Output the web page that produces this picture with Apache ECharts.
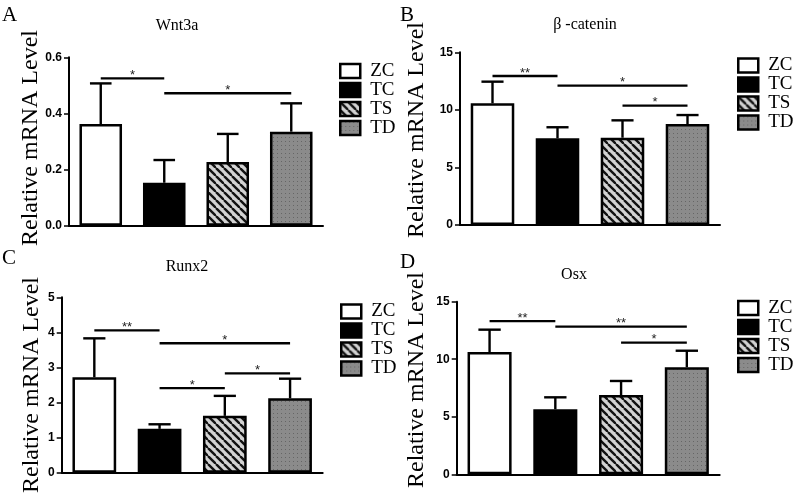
<!DOCTYPE html>
<html>
<head>
<meta charset="utf-8">
<script src="https://cdn.jsdelivr.net/npm/echarts@6/dist/echarts.min.js"></script>
<style>
html,body{margin:0;padding:0;background:#fff;}
#chart{width:794px;height:494px;}
</style>
</head>
<body>
<div id="chart"></div>
<script>
// ---------- data ----------
const groups = ['ZC', 'TC', 'TS', 'TD'];
const panelTitles = ['Wnt3a', 'β -catenin', 'Runx2', 'Osx'];
const panelLetters = ['A', 'B', 'C', 'D'];
const yAxisTitle = 'Relative mRNA Level';

const wnt3aMean = [0.362, 0.153, 0.227, 0.335];
const wnt3aSD   = [0.145, 0.081, 0.100, 0.101];
const betaMean  = [10.57, 7.53, 7.58, 8.77];
const betaSD    = [1.88, 0.96, 1.51, 0.78];
const runx2Mean = [2.72, 1.25, 1.62, 2.12];
const runx2SD   = [1.11, 0.13, 0.57, 0.56];
const osxMean   = [10.63, 5.65, 6.89, 9.30];
const osxSD     = [1.94, 1.04, 1.22, 1.44];

const wnt3aTicks = [0, 0.2, 0.4, 0.6];
const betaTicks  = [0, 5, 10, 15];
const runx2Ticks = [0, 1, 2, 3, 4, 5];
const osxTicks   = [0, 5, 10, 15];

// significance brackets: [fromGroup, toGroup, level, label]
const wnt3aSig = [[0, 1, 0.525, '*'], [1, 3, 0.472, '*']];
const betaSig  = [[0, 1, 12.94, '**'], [1, 3, 12.1, '*'], [2, 3, 10.36, '*']];
const runx2Sig = [[0, 1, 4.06, '**'], [1, 3, 3.69, '*'], [1, 2, 2.41, '*'], [2, 3, 2.83, '*']];
const osxSig   = [[0, 1, 13.32, '**'], [1, 3, 12.83, '**'], [2, 3, 11.44, '*']];

const means = [wnt3aMean, betaMean, runx2Mean, osxMean];
const sds = [wnt3aSD, betaSD, runx2SD, osxSD];
const ticks = [wnt3aTicks, betaTicks, runx2Ticks, osxTicks];
const sigs = [wnt3aSig, betaSig, runx2Sig, osxSig];

// ---------- layout ----------
const grids = [
  {left: 69, top: 57.3, width: 254, height: 168.4},
  {left: 460, top: 52.3, width: 260, height: 172.7},
  {left: 61.7, top: 297.3, width: 261, height: 175.4},
  {left: 456.7, top: 301.7, width: 263, height: 172.6}
];
const titlePos = [[177, 26], [585, 25], [187, 267], [574, 275]];
const letterPos = [[2, 15], [400, 15], [2, 258], [400, 262]];
const yTitlePos = [[31, 138], [417, 130], [31.5, 385], [417, 380]];
const legendPos = [[339, 61.5], [737, 56], [340, 302], [737, 298.5]];

// ---------- patterns ----------
function hatchPattern() {
  const s = 8, c = document.createElement('canvas');
  c.width = s; c.height = s;
  const g = c.getContext('2d');
  g.fillStyle = '#d2d2d2'; g.fillRect(0, 0, s, s);
  g.strokeStyle = '#111'; g.lineWidth = 2.4;
  for (let k = -1; k <= 1; k++) {
    g.beginPath(); g.moveTo(k * s, 0); g.lineTo(k * s + s, s); g.stroke();
  }
  return c;
}
function dotPattern() {
  const s = 4, c = document.createElement('canvas');
  c.width = s; c.height = s;
  const g = c.getContext('2d');
  g.fillStyle = '#8b8b8b'; g.fillRect(0, 0, s, s);
  g.fillStyle = '#666666'; g.fillRect(1, 1, 1, 1);
  return c;
}
const fills = [
  '#ffffff',
  '#000000',
  {image: hatchPattern(), repeat: 'repeat'},
  {image: dotPattern(), repeat: 'repeat'}
];

// ---------- option ----------
const serif = '"Liberation Serif", "Times New Roman", serif';
const sans = '"Liberation Sans", Arial, sans-serif';
const option = {
  animation: false,
  backgroundColor: '#fff',
  grid: grids.map(g => Object.assign({containLabel: false}, g)),
  xAxis: grids.map((g, p) => ({
    type: 'category', gridIndex: p, data: groups,
    boundaryGap: true,
    axisLine: {lineStyle: {color: '#000', width: 2}},
    axisTick: {alignWithLabel: true, length: 6, lineStyle: {color: '#000', width: 1.5}},
    axisLabel: {show: false},
    splitLine: {show: false}
  })),
  yAxis: grids.map((g, p) => {
    const t = ticks[p];
    return {
      type: 'value', gridIndex: p,
      min: t[0], max: t[t.length - 1], interval: t[1] - t[0],
      axisLine: {show: true, lineStyle: {color: '#000', width: 2}},
      axisTick: {show: true, length: 5, lineStyle: {color: '#000', width: 1.5}},
      axisLabel: {
        margin: 7, color: '#000', fontFamily: sans, fontWeight: 'bold', fontSize: 12,
        formatter: v => p === 0 ? v.toFixed(1) : String(v)
      },
      splitLine: {show: false}
    };
  }),
  legend: grids.map((g, p) => ({
    data: groups,
    orient: 'vertical',
    left: legendPos[p][0], top: legendPos[p][1],
    padding: 0,
    itemWidth: 20, itemHeight: 14, itemGap: 0,
    icon: 'rect',
    selectedMode: false,
    itemStyle: {borderColor: '#000', borderWidth: 2.5},
    textStyle: {fontFamily: serif, fontSize: 19, color: '#000', padding: [0, 0, 0, 5]}
  })),
  series: [],
  graphic: []
};

for (let p = 0; p < 4; p++) {
  groups.forEach((name, i) => {
    option.series.push({
      type: 'bar', name: name,
      xAxisIndex: p, yAxisIndex: p,
      barWidth: '67%', barGap: '-100%',
      itemStyle: {color: fills[i], borderColor: '#000', borderWidth: 2.5},
      data: means[p].map((v, j) => j === i ? v : '-'),
      z: 2
    });
  });
  // error bars (upper only)
  option.series.push({
    type: 'custom', name: 'err' + p,
    xAxisIndex: p, yAxisIndex: p,
    encode: {x: 0, y: [1, 2]},
    data: means[p].map((m, i) => [i, m, m + sds[p][i]]),
    renderItem: (params, api) => {
      const b = api.coord([api.value(0), api.value(1)]);
      const t = api.coord([api.value(0), api.value(2)]);
      const hw = api.size([1, 0])[0] * 0.17;
      const st = {stroke: '#000', lineWidth: 2.4};
      return {type: 'group', children: [
        {type: 'line', shape: {x1: b[0], y1: b[1], x2: t[0], y2: t[1]}, style: st},
        {type: 'line', shape: {x1: t[0] - hw, y1: t[1], x2: t[0] + hw, y2: t[1]}, style: st}
      ]};
    },
    z: 3
  });
  // significance brackets
  const sg = sigs[p];
  option.series.push({
    type: 'custom', name: 'sig' + p,
    xAxisIndex: p, yAxisIndex: p,
    encode: {x: [0, 1], y: 2},
    data: sg.map(s => [s[0], s[1], s[2]]),
    renderItem: (params, api) => {
      const a = api.coord([api.value(0), api.value(2)]);
      const b = api.coord([api.value(1), api.value(2)]);
      return {type: 'group', children: [
        {type: 'line', shape: {x1: a[0], y1: a[1], x2: b[0], y2: b[1]},
         style: {stroke: '#000', lineWidth: 2.3}},
        {type: 'text', x: (a[0] + b[0]) / 2, y: a[1] - 3,
         style: {text: sg[params.dataIndex][3], fill: '#222', font: '13px ' + sans,
                 align: 'center', verticalAlign: 'middle', textAlign: 'center', textVerticalAlign: 'middle'}}
      ]};
    },
    z: 4
  });

  option.graphic.push({
    type: 'text', x: titlePos[p][0], y: titlePos[p][1],
    style: {text: panelTitles[p], fill: '#000', font: '16px ' + serif,
            align: 'center', verticalAlign: 'middle', textAlign: 'center', textVerticalAlign: 'middle'}
  });
  option.graphic.push({
    type: 'text', x: letterPos[p][0], y: letterPos[p][1],
    style: {text: panelLetters[p], fill: '#000', font: '21px ' + serif,
            align: 'left', verticalAlign: 'middle', textAlign: 'left', textVerticalAlign: 'middle'}
  });
  option.graphic.push({
    type: 'text', x: yTitlePos[p][0], y: yTitlePos[p][1], rotation: Math.PI / 2,
    style: {text: yAxisTitle, fill: '#000', font: '24px ' + serif,
            align: 'center', verticalAlign: 'middle', textAlign: 'center', textVerticalAlign: 'middle'}
  });
}

const chart = echarts.init(document.getElementById('chart'), null, {renderer: 'canvas'});
chart.setOption(option);
</script>
</body>
</html>
